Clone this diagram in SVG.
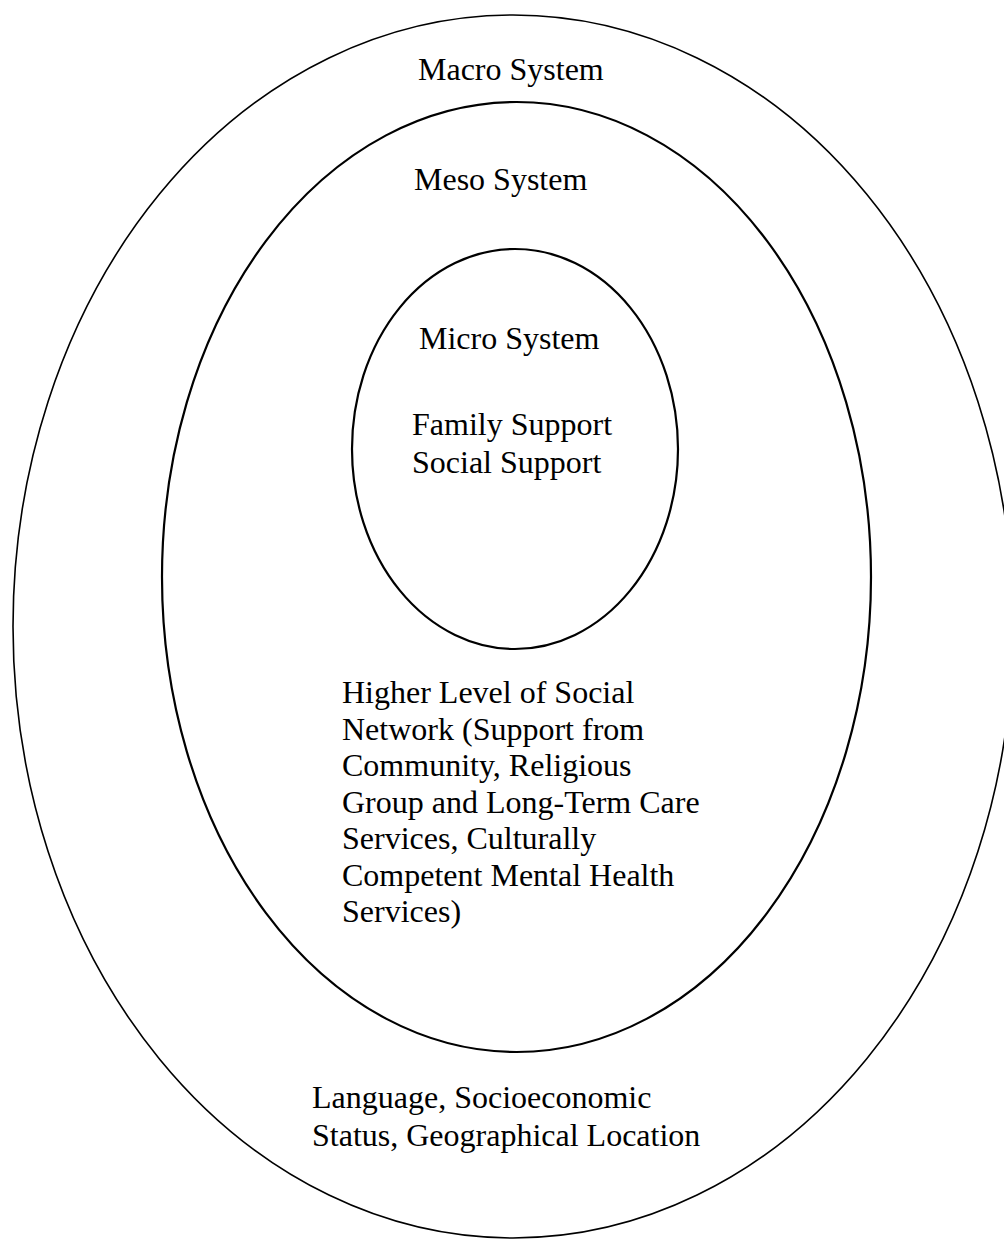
<svg xmlns="http://www.w3.org/2000/svg" width="1004" height="1239" viewBox="0 0 1004 1239">
<style>
.ring{fill:none;stroke:#000}
.t{font-family:"Liberation Serif","Times New Roman",serif;font-size:32px;fill:#000}
</style>
<rect width="1004" height="1239" fill="#fff"/>
<g id="macro">
<ellipse class="ring" cx="513" cy="626.5" rx="500" ry="611.5" stroke-width="1.6"/>
<text class="t" x="418" y="80">Macro System</text>
<text class="t" x="312" y="1108">Language, Socioeconomic</text>
<text class="t" x="312" y="1146">Status, Geographical Location</text>
</g>
<g id="meso">
<ellipse class="ring" cx="516.5" cy="577" rx="354.5" ry="475" stroke-width="2.2"/>
<text class="t" x="414" y="190">Meso System</text>
<text class="t" x="342" y="703">Higher Level of Social</text>
<text class="t" x="342" y="739.5">Network (Support from</text>
<text class="t" x="342" y="776">Community, Religious</text>
<text class="t" x="342" y="812.5">Group and Long-Term Care</text>
<text class="t" x="342" y="849">Services, Culturally</text>
<text class="t" x="342" y="885.5">Competent Mental Health</text>
<text class="t" x="342" y="922">Services)</text>
</g>
<g id="micro">
<ellipse class="ring" cx="515" cy="449" rx="163" ry="200" stroke-width="2.2"/>
<text class="t" x="419" y="349">Micro System</text>
<text class="t" x="412" y="435">Family Support</text>
<text class="t" x="412" y="473">Social Support</text>
</g>
<g id="connectors"/>
</svg>
